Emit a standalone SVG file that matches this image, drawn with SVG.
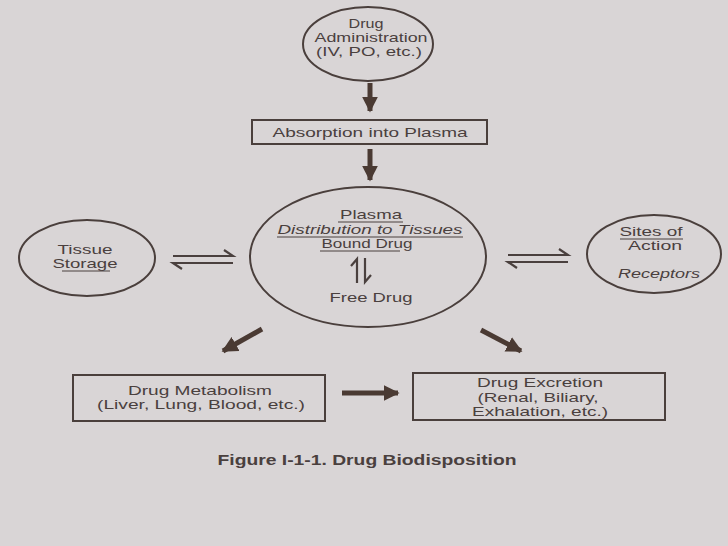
<svg xmlns="http://www.w3.org/2000/svg" width="728" height="546" viewBox="0 0 728 546">
<defs>
<style>
.bg{fill:#d9d5d6}
.n{fill:none;stroke:#4a3f3c;stroke-width:2}
.t{font-family:"Liberation Sans",Arial,sans-serif;font-size:13px;fill:#4a403e;text-anchor:middle}
.i{font-style:italic}
.b{font-weight:bold;font-size:14px}
.ul{stroke:#4a403e;stroke-width:1}
.ar{stroke:#4a3a33;stroke-width:5;fill:none}
.h{stroke:#4a403e;stroke-width:2.2;fill:none}
</style>
<marker id="ah" viewBox="0 0 10 10" refX="9" refY="5" markerWidth="3.2" markerHeight="3.4" orient="auto" markerUnits="strokeWidth">
<path d="M0,0 L10,5 L0,10 Z" fill="#4a3a33"/>
</marker>
</defs>
<rect class="bg" x="0" y="0" width="728" height="546"/>

<g id="admin">
<ellipse class="n" cx="368" cy="44" rx="65" ry="37"/>
<text class="t" x="366" y="28" textLength="35" lengthAdjust="spacingAndGlyphs">Drug</text>
<text class="t" x="371" y="42" textLength="113" lengthAdjust="spacingAndGlyphs">Administration</text>
<text class="t" x="369" y="56" textLength="106" lengthAdjust="spacingAndGlyphs">(IV, PO, etc.)</text>
</g>

<g id="absorption">
<rect class="n" x="252" y="120" width="235" height="24"/>
<text class="t" x="370" y="137" textLength="195" lengthAdjust="spacingAndGlyphs">Absorption into Plasma</text>
</g>

<g id="plasma">
<ellipse class="n" cx="368" cy="257" rx="118" ry="70"/>
<text class="t" x="371" y="219" textLength="62" lengthAdjust="spacingAndGlyphs">Plasma</text>
<line class="ul" x1="338" y1="222" x2="403" y2="222"/>
<text class="t i" x="370" y="234" textLength="185" lengthAdjust="spacingAndGlyphs">Distribution to Tissues</text>
<line class="ul" x1="277" y1="237" x2="463" y2="237"/>
<text class="t" x="367" y="248" textLength="91" lengthAdjust="spacingAndGlyphs">Bound Drug</text>
<line class="ul" x1="320" y1="251" x2="400" y2="251"/>
<path class="h" d="M357,283 V259 L351,266"/>
<path class="h" d="M365,258 V282 L371,275"/>
<text class="t" x="371" y="302" textLength="83" lengthAdjust="spacingAndGlyphs">Free Drug</text>
</g>

<g id="tissue">
<ellipse class="n" cx="87" cy="258" rx="68" ry="38"/>
<text class="t" x="85" y="254" textLength="55" lengthAdjust="spacingAndGlyphs">Tissue</text>
<text class="t" x="85" y="268" textLength="65" lengthAdjust="spacingAndGlyphs">Storage</text>
<line class="ul" x1="62" y1="271" x2="110" y2="271"/>
</g>

<g id="sites">
<ellipse class="n" cx="654" cy="254" rx="67" ry="39"/>
<text class="t" x="651" y="236" textLength="63" lengthAdjust="spacingAndGlyphs">Sites of</text>
<line class="ul" x1="620" y1="239" x2="683" y2="239"/>
<text class="t" x="655" y="250" textLength="54" lengthAdjust="spacingAndGlyphs">Action</text>
<text class="t i" x="659" y="278" textLength="82" lengthAdjust="spacingAndGlyphs">Receptors</text>
</g>

<g id="metabolism">
<rect class="n" x="73" y="375" width="252" height="46"/>
<text class="t" x="200" y="395" textLength="144" lengthAdjust="spacingAndGlyphs">Drug Metabolism</text>
<text class="t" x="201" y="409" textLength="208" lengthAdjust="spacingAndGlyphs">(Liver, Lung, Blood, etc.)</text>
</g>

<g id="excretion">
<rect class="n" x="413" y="373" width="252" height="47"/>
<text class="t" x="540" y="387" textLength="126" lengthAdjust="spacingAndGlyphs">Drug Excretion</text>
<text class="t" x="538" y="402" textLength="121" lengthAdjust="spacingAndGlyphs">(Renal, Biliary,</text>
<text class="t" x="540" y="416" textLength="136" lengthAdjust="spacingAndGlyphs">Exhalation, etc.)</text>
</g>

<g id="connectors">
<line class="ar" x1="370" y1="83" x2="370" y2="111" marker-end="url(#ah)"/>
<line class="ar" x1="370" y1="149" x2="370" y2="180" marker-end="url(#ah)"/>
<line class="ar" x1="262" y1="329" x2="223" y2="351" marker-end="url(#ah)"/>
<line class="ar" x1="481" y1="330" x2="521" y2="351" marker-end="url(#ah)"/>
<line class="ar" x1="342" y1="393" x2="398" y2="393" stroke-width="4" marker-end="url(#ah)"/>
<path class="h" d="M173,256 H233 L224,250"/>
<path class="h" d="M233,263 H173 L182,269"/>
<path class="h" d="M508,255 H568 L559,249"/>
<path class="h" d="M568,262 H508 L517,268"/>
</g>

<text class="t b" x="367" y="465" textLength="299" lengthAdjust="spacingAndGlyphs">Figure I-1-1. Drug Biodisposition</text>
</svg>
